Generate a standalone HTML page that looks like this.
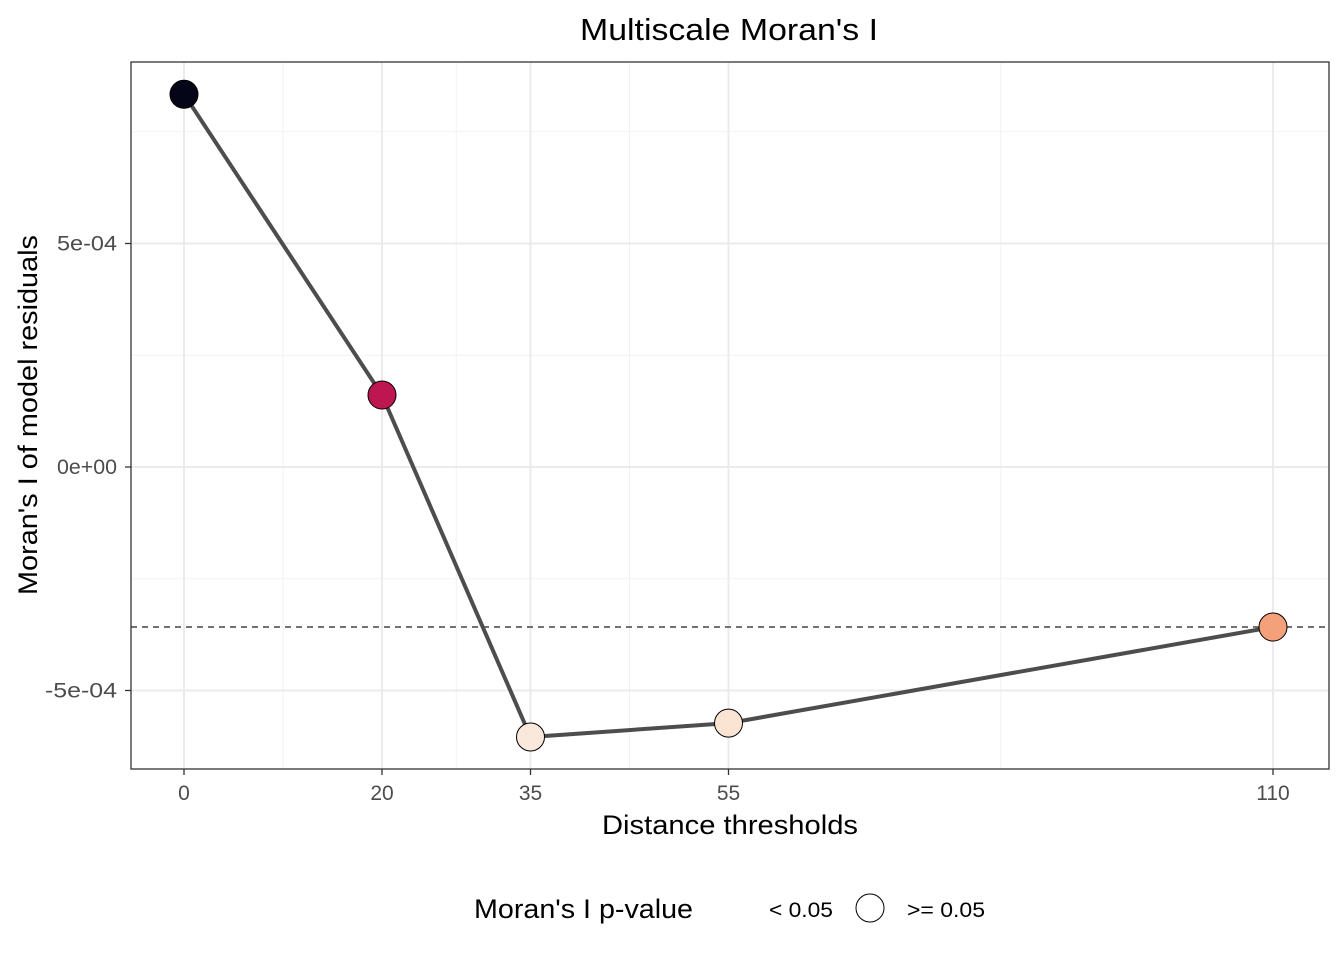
<!DOCTYPE html>
<html><head><meta charset="utf-8"><style>
body{margin:0;background:#fff}
svg text{font-family:"Liberation Sans",Arial,sans-serif}
</style></head><body>
<svg id="chart" width="1344" height="960">
<rect width="1344" height="960" fill="#fff"/>
<text x="580" y="40" font-size="31" textLength="298" lengthAdjust="spacingAndGlyphs">Multiscale Moran's I</text>
<g id="grid"></g>
<g id="marks"></g>
<rect x="131" y="62" width="1198" height="707" fill="none" stroke="#333" stroke-width="1.3"/>
<g id="axes"></g>
<text x="602" y="834" font-size="27" textLength="256" lengthAdjust="spacingAndGlyphs">Distance thresholds</text>
<text transform="translate(37,595) rotate(-90)" font-size="27" textLength="360" lengthAdjust="spacingAndGlyphs">Moran's I of model residuals</text>
<g>
<text x="474" y="918" font-size="27" textLength="219" lengthAdjust="spacingAndGlyphs">Moran's I p-value</text>
<text x="769" y="917" font-size="21" textLength="64" lengthAdjust="spacingAndGlyphs">&lt; 0.05</text>
<circle cx="870" cy="908" r="14" fill="#fff" stroke="#000" stroke-width="1"/>
<text x="907" y="917" font-size="21" textLength="78" lengthAdjust="spacingAndGlyphs">&gt;= 0.05</text>
</g>
</svg>
<script>
const distances=[0,20,35,55,110];
const moranI=[8.34e-4,1.61e-4,-6.04e-4,-5.73e-4,-3.58e-4];
const fills=["#050518","#be1650","#fbe8dc","#fbe4d4","#f4a07a"];
const expectedI=-3.58e-4;
const yTicks=[5e-4,0,-5e-4];
const yTickLabels=["5e-04","0e+00","-5e-04"];
const yMinor=[7.5e-4,2.5e-4,-2.5e-4];
const xMinor=[10,27.5,45,82.5];
const NS="http://www.w3.org/2000/svg";
const x=v=>184+v*(1273-184)/110;
const y=v=>467-v*447000;
function mk(tag,attrs,parent){const e=document.createElementNS(NS,tag);for(const k in attrs)e.setAttribute(k,attrs[k]);document.getElementById(parent).appendChild(e);return e;}
xMinor.forEach(v=>{const l=mk('line',{x1:x(v),x2:x(v),y1:62,y2:769,stroke:'#f2f2f2','stroke-width':1},'grid');

});
yMinor.forEach(v=>{const l=mk('line',{x1:131,x2:1329,y1:y(v),y2:y(v),stroke:'#f2f2f2','stroke-width':1},'grid');

});
distances.forEach(v=>{const l=mk('line',{x1:x(v),x2:x(v),y1:62,y2:769,stroke:'#ebebeb','stroke-width':2},'grid');


const t=mk('line',{x1:x(v),x2:x(v),y1:769,y2:775,stroke:'#333','stroke-width':1.3},'axes');


const tx=mk('text',{x:x(v),y:800,'font-size':21,'text-anchor':'middle',fill:'#4d4d4d'},'axes');tx.textContent=v;

});
yTicks.forEach((v,i)=>{const l=mk('line',{x1:131,x2:1329,y1:y(v),y2:y(v),stroke:'#ebebeb','stroke-width':2},'grid');


const t=mk('line',{x1:125,x2:131,y1:y(v),y2:y(v),stroke:'#333','stroke-width':1.3},'axes');


const tx=mk('text',{x:117,y:y(v)+7,'font-size':21,'text-anchor':'end',fill:'#4d4d4d',textLength:yTickLabels[i].length*12,lengthAdjust:'spacingAndGlyphs'},'axes');tx.textContent=yTickLabels[i];

});
const ref=mk('line',{x1:131,x2:1329,y1:y(expectedI),y2:y(expectedI),stroke:'#444','stroke-width':1.5,'stroke-dasharray':'6 5'},'marks');


const pl=mk('polyline',{points:distances.map((d,i)=>x(d)+','+y(moranI[i])).join(' '),fill:'none',stroke:'#4d4d4d','stroke-width':4},'marks');


distances.forEach((d,i)=>{const c=mk('circle',{cx:x(d),cy:y(moranI[i]),r:14,fill:fills[i],stroke:'#000','stroke-width':1},'marks');

});
</script>
</body></html>
